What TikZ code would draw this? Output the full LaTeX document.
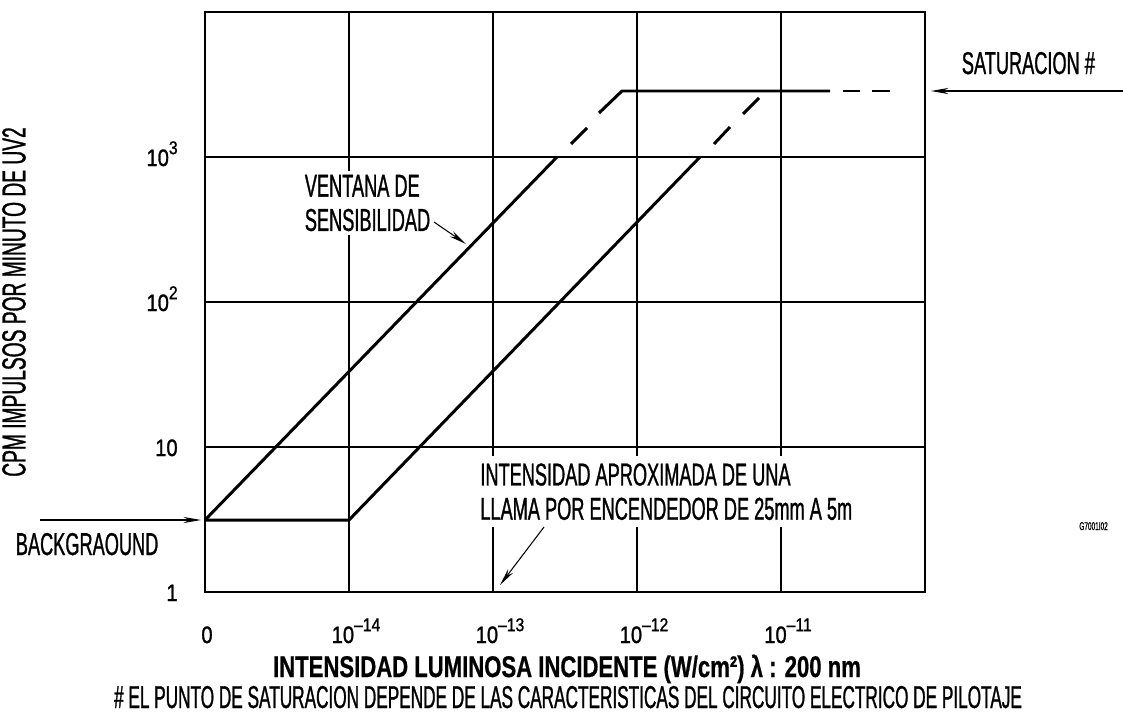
\documentclass[tikz,border=0pt]{standalone}
\usepackage{fontspec}
\setmainfont{Liberation Sans}[FakeStretch=0.575,FakeBold=0.9]
\newfontfamily\notefont{Liberation Sans}[FakeStretch=0.544,FakeBold=0.9]
\newfontfamily\tickfont{Liberation Sans}[FakeStretch=0.85,FakeBold=1.2]
\newfontfamily\titlefont{Liberation Sans}[FakeStretch=0.74,FakeBold=0.6]
\newcommand\lblsize{\fontsize{18}{19.5}\selectfont}
\newcommand\pow[1]{\raisebox{0.5em}{\fontsize{10.5}{12}\selectfont #1}}
\usetikzlibrary{arrows.meta,calc}

\begin{document}
\begin{tikzpicture}[x=0.02cm,y=-0.02cm,
   grid/.style={line width=0.8pt},
   curve/.style={line width=1.7pt},
   lbl/.style={font=\lblsize,inner sep=2pt,align=left},
   tick/.style={font=\tickfont\fontsize{13.5}{16}\selectfont,inner sep=0pt},
   pointer/.style={line width=0.6pt,-{Stealth[length=10pt,width=3.5pt]}}]
   \useasboundingbox (0,0) rectangle (1123,717);
   % grid and frame
   \foreach \x in {349,493,637,781} \draw[grid] (\x,12) -- (\x,592);
   \foreach \y in {157,302,447} \draw[grid] (205,\y) -- (925,\y);
   \draw[line width=1.1pt] (205,12) rectangle (925,592);
   % axis ticks
   \node[tick,anchor=base] (x0) at (207,643) {0};
   \foreach \x/\e in {349/14,493/13,637/12,781/11}
     \node[tick,anchor=base] (x\e) at (\x+7,643) {10\pow{–\e}};
   \node[tick,anchor=base east] (y3) at (178,166) {10\pow{3}};
   \node[tick,anchor=base east] (y2) at (178,311) {10\pow{2}};
   \node[tick,anchor=base east] (y1) at (178,456) {10};
   \node[tick,anchor=base east] (y0) at (178,601) {1};
   \node[font=\fontsize{19}{20}\selectfont,inner sep=0pt,rotate=90] (ylabel) at (14,302) {CPM IMPULSOS POR MINUTO DE UV2};
   \node[font=\titlefont\bfseries\fontsize{17}{19}\selectfont,anchor=base] (xtitle) at (567,677)
     {INTENSIDAD LUMINOSA INCIDENTE (W/cm²) λ : 200 nm};
   \node[font=\notefont\lblsize,anchor=base] (note) at (568,708)
     {\# EL PUNTO DE SATURACION DEPENDE DE LAS CARACTERISTICAS DEL CIRCUITO ELECTRICO DE PILOTAJE};
   % sensitivity window
   \coordinate (bg) at (205,520);
   \coordinate (knee) at (349,520);
   \coordinate (top1) at (557,157);
   \coordinate (top2) at (700,157);
   \coordinate (sat) at (622,91);
   \draw[curve] (bg) -- (top1);
   \draw[curve] (bg) -- (knee) -- (top2);
   \draw[curve] (571,144) -- (587,128);
   \draw[curve] (599,113) -- (sat) -- (830,91);
   \draw[curve] (843,91) -- (860,91);
   \draw[curve] (872,91) -- (890,91);
   \draw[curve] (714,144) -- (730,127);
   \draw[curve] (743,114) -- (759,98);
   % labels
   \node[lbl,fill=white,anchor=north west] (ventana) at (301,171) {VENTANA DE\\SENSIBILIDAD};
   \coordinate (ventanafrom) at (434,222);
   \coordinate (ventanato) at (466,244);
   \draw[pointer] (ventanafrom) -- (ventanato);
   \node[lbl,fill=white,inner sep=4pt,anchor=north west] (llama) at (473,456)
     {INTENSIDAD APROXIMADA DE UNA\\LLAMA POR ENCENDEDOR DE 25mm A 5m};
   \coordinate (llamafrom) at (544,527);
   \coordinate (llamato) at (500,585);
   \draw[pointer] (llamafrom) -- (llamato);
   \node[lbl,anchor=base west] (sattxt) at (958,74) {SATURACION \#};
   \coordinate (satfrom) at (1123,91);
   \coordinate (satto) at (931,91);
   \draw[pointer] (satfrom) -- (satto);
   \node[lbl,anchor=base west] (bgtxt) at (12,555) {BACKGRAOUND};
   \coordinate (bgfrom) at (40,520);
   \coordinate (bgto) at (201,520);
   \draw[pointer] (bgfrom) -- (bgto);
   \node[font=\fontsize{6.4}{8}\selectfont,anchor=base west,inner sep=0pt] (code) at (1079,530) {G7001I02};
\end{tikzpicture}
\end{document}
